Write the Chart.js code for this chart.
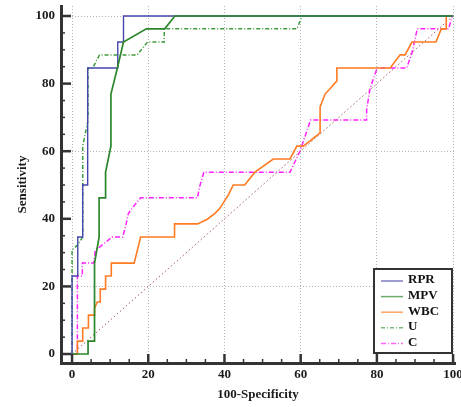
<!DOCTYPE html>
<html>
<head>
<meta charset="utf-8">
<script src="https://cdn.jsdelivr.net/npm/chart.js@4/dist/chart.umd.min.js"></script>
<style>
  html, body { margin: 0; padding: 0; background: #ffffff; }
  #wrap { width: 461px; height: 407px; }
</style>
</head>
<body>
<div id="wrap"><canvas id="roc" width="461" height="407"></canvas></div>
<script>
// ROC curves, values in percent: x = 100-Specificity, y = Sensitivity
const rprX = [0, 0, 1.5, 1.5, 2.8, 2.8, 4.1, 4.1, 12.0, 12.0, 13.5, 13.5, 100];
const rprY = [0, 23.1, 23.1, 34.6, 34.6, 50.0, 50.0, 84.6, 84.6, 92.3, 92.3, 100, 100];

const mpvX = [0, 4.2, 4.2, 5.9, 5.9, 7.1, 7.1, 8.8, 8.8, 10.2, 10.2, 11.9, 13.5, 19.5, 24.3, 27.0, 100];
const mpvY = [0, 0, 3.8, 3.8, 26.9, 34.6, 46.2, 46.2, 53.8, 61.5, 76.9, 84.6, 92.3, 96.2, 96.2, 100, 100];

const wbcX = [0, 1.4, 1.4, 2.8, 2.8, 4.3, 4.3, 5.9, 5.9, 6.6, 7.4, 7.4, 8.8, 8.8, 10.3, 10.3, 16.3, 18.0, 26.9, 26.9,
              32.9, 35.4, 37.5, 38.8, 40.2, 41.0, 42.3, 45.3, 48.0, 52.8, 57.2, 59.0, 60.7, 65.1, 65.1, 66.4, 67.7, 69.5, 69.5, 83.5,
              86.1, 87.4, 89.2, 95.5, 96.9, 98.2, 98.2, 100];
const wbcY = [0, 0, 3.8, 3.8, 7.7, 7.7, 11.5, 11.5, 13.5, 15.4, 15.4, 19.2, 19.2, 23.1, 23.1, 26.9, 26.9, 34.6, 34.6, 38.5,
              38.5, 39.8, 41.6, 43.1, 45.6, 47.0, 50.0, 50.0, 53.8, 57.7, 57.7, 61.5, 61.5, 65.4, 73.1, 76.9, 78.5, 80.8, 84.6, 84.6,
              88.5, 88.5, 92.3, 92.3, 96.2, 96.2, 100, 100];

const uX = [0, 0, 1.4, 2.8, 2.8, 4.2, 4.2, 5.4, 7.2, 17.1, 19.8, 24.2, 24.2, 59.0, 60.4, 100];
const uY = [0, 30.8, 32.2, 34.6, 61.5, 69.2, 84.6, 84.6, 88.5, 88.5, 92.3, 92.3, 96.2, 96.2, 100, 100];

const cX = [0, 1.4, 1.4, 2.7, 2.7, 5.7, 6.1, 7.4, 10.5, 13.3, 14.2, 14.8, 16.5, 18.0, 32.9, 33.6, 34.6, 57.2, 59.8, 62.6,
            77.3, 77.3, 78.2, 79.5, 80.1, 87.8, 89.2, 90.6, 98.8, 99.8, 100];
const cY = [0, 0, 23.1, 23.1, 26.9, 26.9, 30.8, 31.8, 34.6, 34.6, 38.5, 41.6, 44.2, 46.2, 46.2, 50.0, 53.8, 53.8, 60.0, 69.2,
            69.2, 72.2, 78.5, 82.8, 84.6, 84.6, 89.0, 96.2, 96.2, 100, 100];

// chance line
const refX = [0, 100];
const refY = [0, 100];

// axis ticks
const tickValues = [0, 5, 10, 15, 20, 25, 30, 35, 40, 45, 50, 55, 60, 65, 70, 75, 80, 85, 90, 95, 100];
const labelStep = 20;
const xGridValues = [0, 20, 40, 60, 80, 100];
const yGridValues = [20, 60, 100];

const legendNames = ['RPR', 'MPV', 'WBC', 'U', 'C'];

const pts = (xs, ys) => xs.map((x, i) => ({ x: x, y: ys[i] }));
const SERIF = '"Liberation Serif", "Times New Roman", serif';

function curve(label, xs, ys, color, width, dash, order) {
  return {
    label: label,
    data: pts(xs, ys),
    showLine: true,
    borderColor: color,
    backgroundColor: color,
    borderWidth: width,
    borderDash: dash,
    pointRadius: 0,
    pointHoverRadius: 0,
    tension: 0,
    fill: false,
    order: order
  };
}

const datasets = [
  curve('RPR', rprX, rprY, '#4646ad', 1.4, [], 2),
  curve('MPV', mpvX, mpvY, '#2b862b', 1.7, [], 1),
  curve('WBC', wbcX, wbcY, '#ff7b22', 1.6, [], 4),
  curve('U', uX, uY, '#3c9c3c', 1.5, [4, 2, 1, 2], 3),
  curve('C', cX, cY, '#ff22ff', 1.5, [5, 2, 1, 2], 5),
  curve('', refX, refY, '#a55a5a', 1, [1.5, 2.5], 6)
];

// inward tick marks and the boxed legend
const axisDecor = {
  id: 'axisDecor',
  afterDraw(chart) {
    const { ctx, chartArea: a, scales: { x, y } } = chart;
    ctx.save();
    ctx.strokeStyle = '#333333';
    ctx.lineCap = 'butt';
    tickValues.forEach(v => {
      const major = v % labelStep === 0;
      ctx.lineWidth = major ? 2.5 : 1.5;
      const px = x.getPixelForValue(v);
      ctx.beginPath();
      ctx.moveTo(px, a.bottom);
      ctx.lineTo(px, a.bottom - (major ? 9 : 4));
      ctx.stroke();
      const py = y.getPixelForValue(v);
      ctx.beginPath();
      ctx.moveTo(a.left, py);
      ctx.lineTo(a.left + (major ? 10 : 4), py);
      ctx.stroke();
    });

    // legend
    const boxW = 78, boxH = 84;
    const bx = a.right - 3 - boxW;
    const by = a.bottom - 10 - boxH;
    ctx.fillStyle = '#ffffff';
    ctx.fillRect(bx, by, boxW, boxH);
    ctx.lineWidth = 2;
    ctx.strokeStyle = '#333333';
    ctx.strokeRect(bx, by, boxW, boxH);
    ctx.font = 'bold 13px ' + SERIF;
    ctx.textBaseline = 'middle';
    ctx.textAlign = 'left';
    legendNames.forEach((name, i) => {
      const ds = chart.data.datasets.find(d => d.label === name);
      const ry = by + 11 + i * 15.6;
      ctx.save();
      ctx.strokeStyle = ds.borderColor;
      ctx.globalAlpha = 0.7;
      ctx.lineWidth = 1.5;
      ctx.setLineDash(ds.borderDash || []);
      ctx.beginPath();
      ctx.moveTo(bx + 7, ry + 1);
      ctx.lineTo(bx + 29, ry + 1);
      ctx.stroke();
      ctx.restore();
      ctx.fillStyle = '#111111';
      ctx.fillText(name, bx + 34, ry);
    });
    ctx.restore();
  }
};

const gridColor = (vals) => (c) => (c.tick && vals.includes(c.tick.value)) ? '#b4b4b4' : 'rgba(0,0,0,0)';

new Chart(document.getElementById('roc'), {
  type: 'scatter',
  data: { datasets: datasets },
  options: {
    responsive: false,
    animation: false,
    events: [],
    layout: { padding: { top: 6, right: 6, left: 0, bottom: 0 } },
    plugins: {
      legend: { display: false },
      tooltip: { enabled: false }
    },
    scales: {
      x: {
        type: 'linear',
        min: -2.9,
        max: 100.5,
        afterBuildTicks: s => { s.ticks = tickValues.map(v => ({ value: v })); },
        afterFit: s => { s.height = 44; s.paddingLeft = 0; s.paddingRight = 0; },
        ticks: {
          autoSkip: false,
          maxRotation: 0,
          padding: 4,
          color: '#1a1a1a',
          font: { family: SERIF, size: 13, weight: 'bold' },
          callback: v => (v % labelStep === 0 ? String(v) : '')
        },
        grid: { color: gridColor(xGridValues), lineWidth: 1, drawTicks: false },
        border: { display: true, color: '#333333', width: 3, dash: [1, 2] },
        title: {
          display: true,
          text: '100-Specificity',
          color: '#1a1a1a',
          font: { family: SERIF, size: 13, weight: 'bold' },
          padding: { top: 0, bottom: 5 }
        }
      },
      y: {
        type: 'linear',
        min: -2.66,
        max: 102.96,
        afterBuildTicks: s => { s.ticks = tickValues.map(v => ({ value: v })); },
        afterFit: s => { s.width = 61; s.paddingTop = 0; s.paddingBottom = 0; },
        ticks: {
          autoSkip: false,
          padding: 6,
          color: '#1a1a1a',
          font: { family: SERIF, size: 13, weight: 'bold' },
          callback: v => (v % labelStep === 0 ? String(v) : '')
        },
        grid: { color: gridColor(yGridValues), lineWidth: 1, drawTicks: false },
        border: { display: true, color: '#333333', width: 3, dash: [1, 2] },
        title: {
          display: true,
          text: 'Sensitivity',
          color: '#1a1a1a',
          font: { family: SERIF, size: 13, weight: 'bold' },
          padding: { top: 15, bottom: 0 }
        }
      }
    }
  },
  plugins: [axisDecor]
});
</script>
</body>
</html>
